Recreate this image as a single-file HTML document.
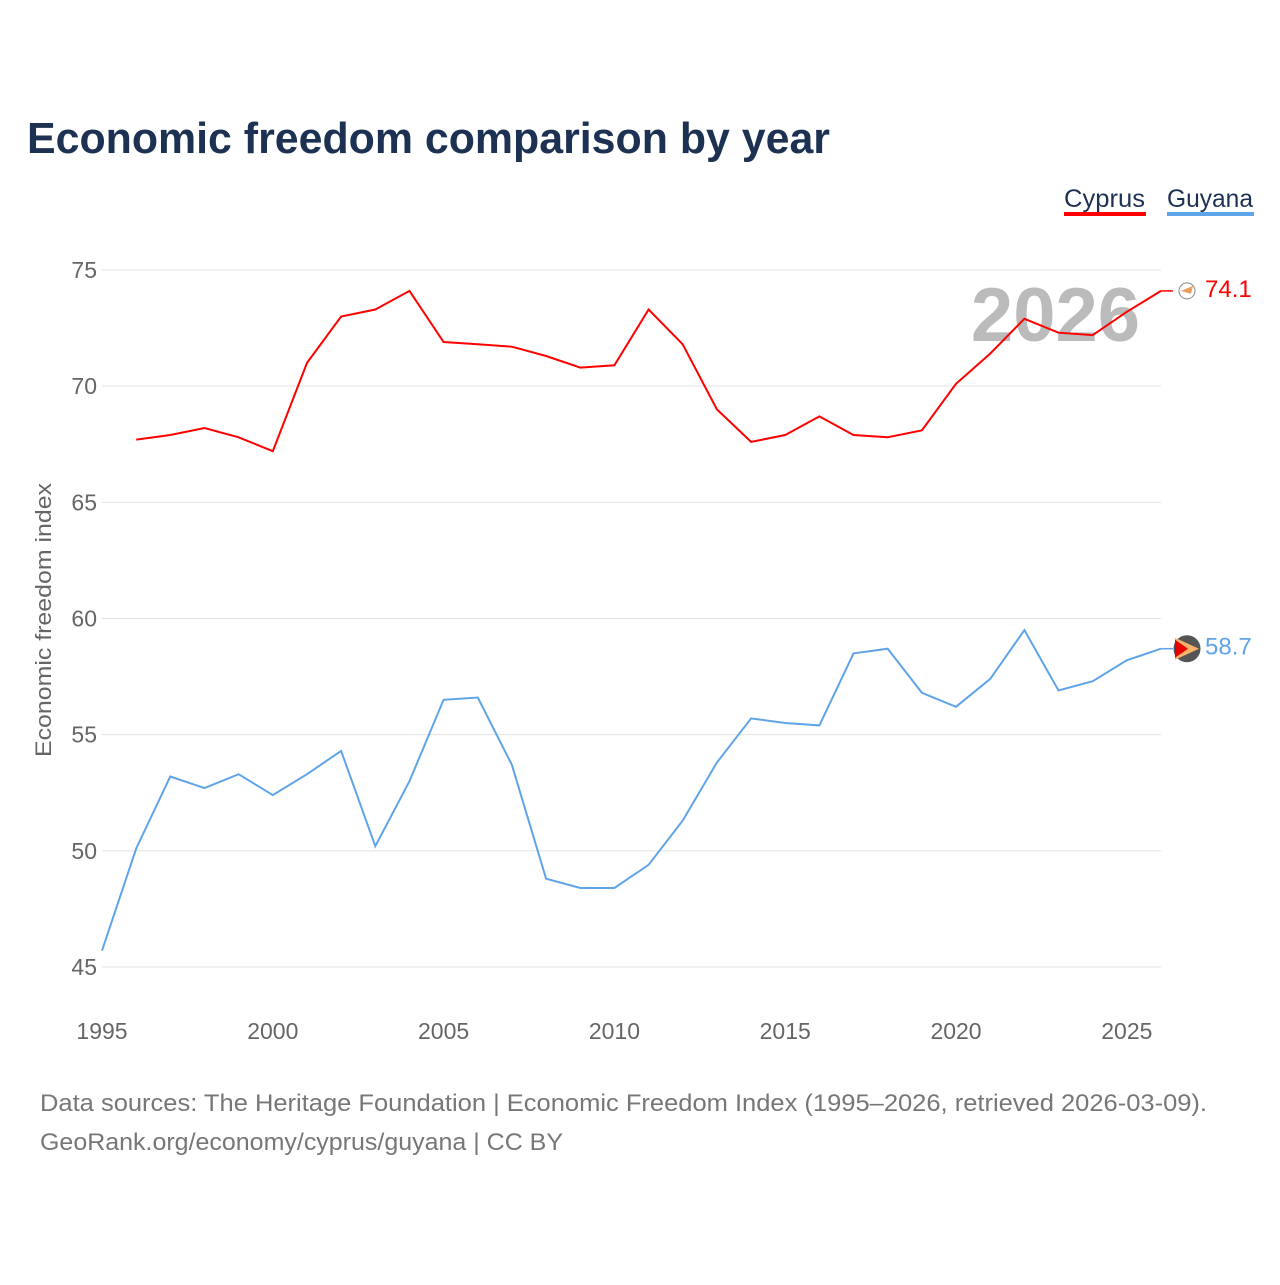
<!DOCTYPE html>
<html><head><meta charset="utf-8">
<style>
html,body{margin:0;padding:0;background:#fff;}
body{width:1280px;height:1280px;position:relative;font-family:"Liberation Sans",sans-serif;overflow:hidden;}
</style></head>
<body>
<svg id="chart" width="1280" height="1280" viewBox="0 0 1280 1280" xmlns="http://www.w3.org/2000/svg" font-family="Liberation Sans, sans-serif">
<text x="27" y="153" font-size="44" font-weight="bold" fill="#1d3152" textLength="803" lengthAdjust="spacingAndGlyphs">Economic freedom comparison by year</text>
<g>
<g><text x="1064" y="207" font-size="25" fill="#1d3152" textLength="81" lengthAdjust="spacingAndGlyphs">Cyprus</text><rect x="1064" y="212" width="82" height="4" fill="#ff0000"/></g>
<g><text x="1167" y="207" font-size="25" fill="#1d3152" textLength="86" lengthAdjust="spacingAndGlyphs">Guyana</text><rect x="1167" y="212" width="87" height="4" fill="#5fa4e8"/></g>
</g>
<text x="1140" y="341" font-size="76" font-weight="bold" fill="#bbbbbb" text-anchor="end">2026</text>
<g id="grid"></g>
<g id="yticks"></g>
<g id="xticks"></g>
<text transform="translate(51,620) rotate(-90)" font-size="22" fill="#666" text-anchor="middle" textLength="274" lengthAdjust="spacingAndGlyphs">Economic freedom index</text>
<g id="series"></g>
<text x="40" y="1111" font-size="24" fill="#777" textLength="1167" lengthAdjust="spacingAndGlyphs">Data sources: The Heritage Foundation | Economic Freedom Index (1995–2026, retrieved 2026-03-09).</text>
<text x="40" y="1150" font-size="24" fill="#777" textLength="523" lengthAdjust="spacingAndGlyphs">GeoRank.org/economy/cyprus/guyana | CC BY</text>
</svg>
<script>
const cyprusYears = [1996,1997,1998,1999,2000,2001,2002,2003,2004,2005,2006,2007,2008,2009,2010,2011,2012,2013,2014,2015,2016,2017,2018,2019,2020,2021,2022,2023,2024,2025,2026];
const cyprusValues = [67.7,67.9,68.2,67.8,67.2,71.0,73.0,73.3,74.1,71.9,71.8,71.7,71.3,70.8,70.9,73.3,71.8,69.0,67.6,67.9,68.7,67.9,67.8,68.1,70.1,71.4,72.9,72.3,72.2,73.2,74.1];
const guyanaYears = [1995,1996,1997,1998,1999,2000,2001,2002,2003,2004,2005,2006,2007,2008,2009,2010,2011,2012,2013,2014,2015,2016,2017,2018,2019,2020,2021,2022,2023,2024,2025,2026];
const guyanaValues = [45.7,50.1,53.2,52.7,53.3,52.4,53.3,54.3,50.2,53.0,56.5,56.6,53.7,48.8,48.4,48.4,49.4,51.3,53.8,55.7,55.5,55.4,58.5,58.7,56.8,56.2,57.4,59.5,56.9,57.3,58.2,58.7];
const yTicks = [45,50,55,60,65,70,75];
const xTicks = [1995,2000,2005,2010,2015,2020,2025];

const NS="http://www.w3.org/2000/svg";
const X0=102, X1=1161, YEAR0=1995, YEAR1=2026;
const Y0=967, Y1=270, V0=45, V1=75;
const xs=y=>X0+(y-YEAR0)*(X1-X0)/(YEAR1-YEAR0);
const ys=v=>Y0-(v-V0)*(Y0-Y1)/(V1-V0);
function mk(tag,attrs,parent){const e=document.createElementNS(NS,tag);for(const k in attrs)e.setAttribute(k,attrs[k]);parent.appendChild(e);return e;}
const grid=document.getElementById('grid'),yt=document.getElementById('yticks'),xt=document.getElementById('xticks'),ser=document.getElementById('series');
yTicks.forEach(v=>{
  const l=mk('line',{x1:X0,x2:X1,y1:ys(v),y2:ys(v),stroke:'#e3e3e3','stroke-width':1},grid);
  
  
  const t=mk('text',{x:97,y:ys(v)+8,'font-size':23,fill:'#666','text-anchor':'end'},yt);
  t.textContent=v;
  
  
});
xTicks.forEach(y=>{
  const t=mk('text',{x:xs(y),y:1039,'font-size':23,fill:'#666','text-anchor':'middle'},xt);
  t.textContent=y;
  
  
});
function drawSeries(years,vals,color,name,labelDy){
  const d=years.map((y,i)=>(i?'L':'M')+xs(y).toFixed(1)+','+ys(vals[i]).toFixed(1)).join(' ');
  const p=mk('path',{d:d,fill:'none',stroke:color,'stroke-width':2},ser);
  
  
  const ly=years[years.length-1], lv=vals[vals.length-1];
  const cx=xs(ly), cy=ys(lv);
  const c=mk('line',{x1:cx,x2:cx+12,y1:cy,y2:cy,stroke:color,'stroke-width':1.5},ser);
  
  
  const f=mk('circle',{cx:cx+26,cy:cy,r:name==='guyana'?13:8,fill:name==='guyana'?'#555':'#fff',stroke:name==='guyana'?'#555':'#888','stroke-width':1},ser);
  
  
  if(name==='guyana'){
    const a=mk('path',{d:`M${cx+14},${cy-11} L${cx+38},${cy} L${cx+14},${cy+11} Z`,fill:'#f8b26a'},ser);
    
    
    const b=mk('path',{d:`M${cx+14},${cy-9} L${cx+27},${cy} L${cx+14},${cy+9} Z`,fill:'#e60000'},ser);
    
    
  } else {
    const a=mk('path',{d:`M${cx+20},${cy} L${cx+32},${cy-5} L${cx+30},${cy+3} Z`,fill:'#e8a060'},ser);
    
    
  }
  const t=mk('text',{x:cx+44,y:cy+labelDy,'font-size':24,fill:color},ser);
  t.textContent=lv.toFixed(1);
  
  
}
drawSeries(cyprusYears,cyprusValues,'#ff0000','cyprus',6);
drawSeries(guyanaYears,guyanaValues,'#5fa4e8','guyana',6);
</script>
</body></html>
